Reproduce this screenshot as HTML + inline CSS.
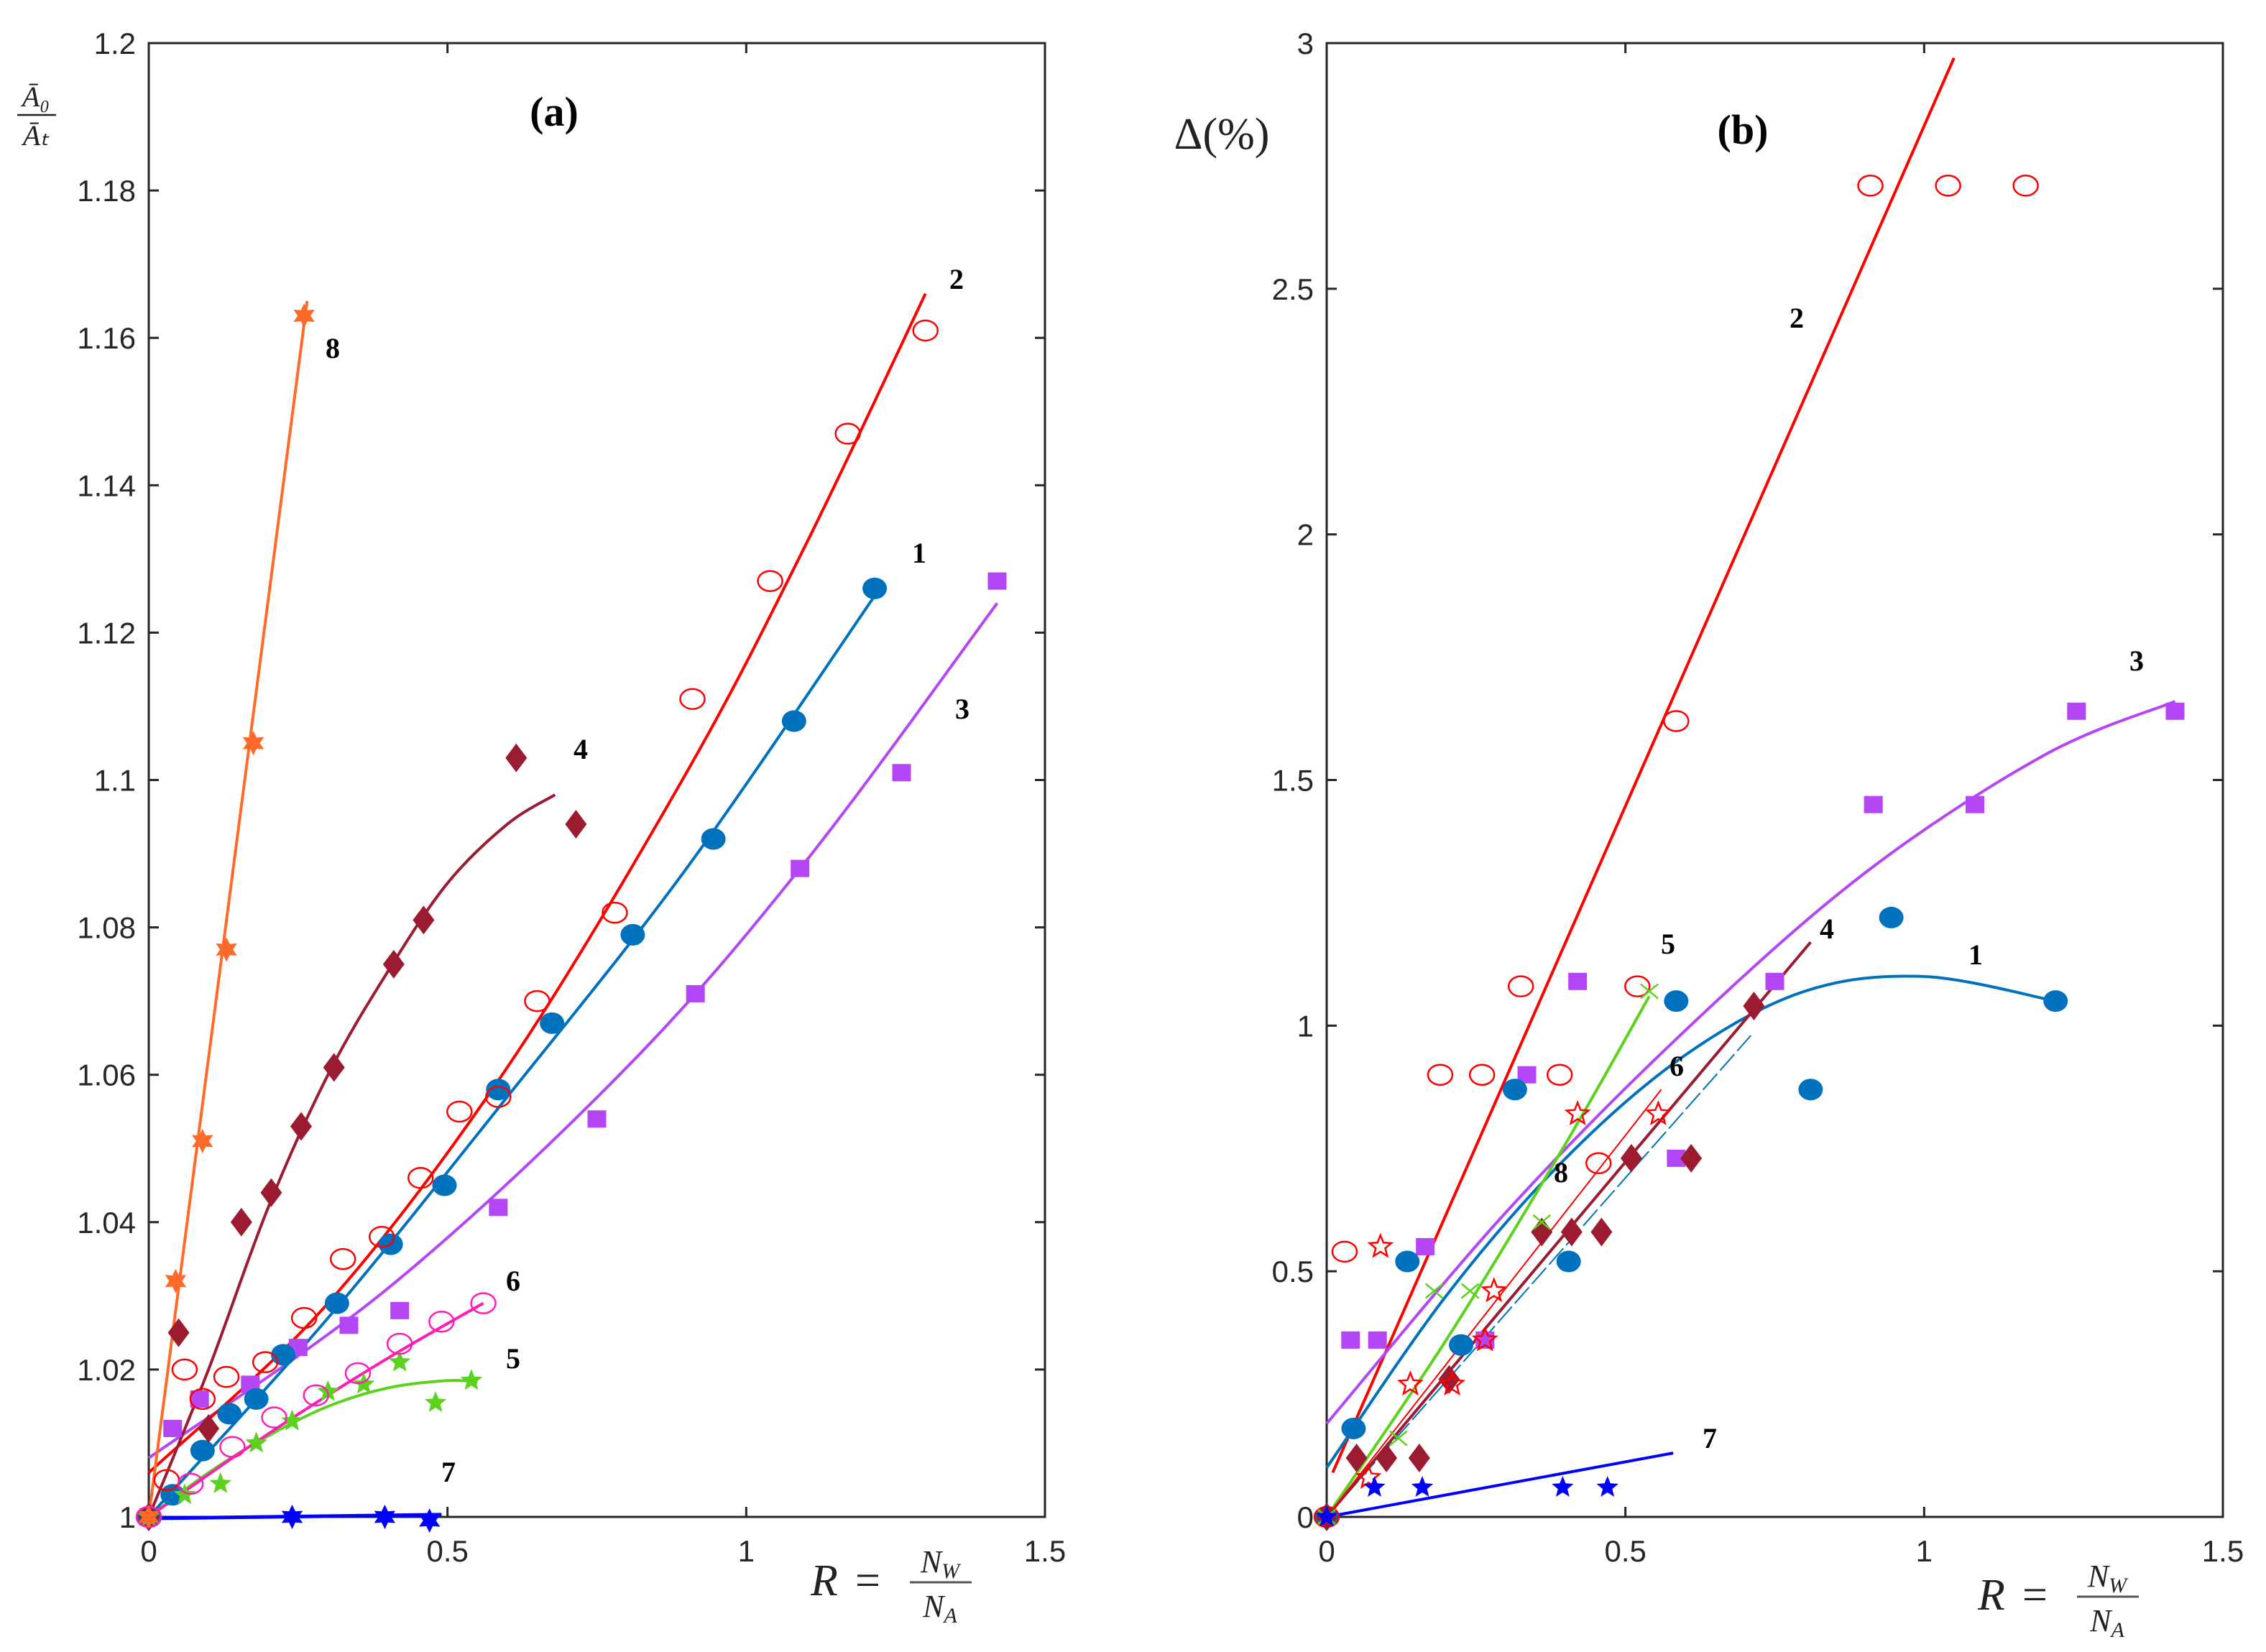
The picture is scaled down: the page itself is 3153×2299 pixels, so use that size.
<!DOCTYPE html>
<html><head><meta charset="utf-8"><style>
html,body{margin:0;padding:0;background:#fff}
svg{display:block}
text{font-family:"Liberation Sans",Arial,sans-serif}
.ser{font-family:"Liberation Serif",serif}
</style></head><body>
<svg id="svg" width="3153" height="2299" viewBox="0 0 3153 2299" xmlns="http://www.w3.org/2000/svg"></svg>
<script>
// ---------- Panel (a) data ----------
const a1x=[0,0.04,0.09,0.135,0.18,0.225,0.315,0.405,0.495,0.585,0.675,0.81,0.945,1.08,1.215];
const a1y=[1,1.003,1.009,1.014,1.016,1.022,1.029,1.037,1.045,1.058,1.067,1.079,1.092,1.108,1.126];
const a1fx=[0,0.3,0.6,0.9,1.215];
const a1fy=[1.0,1.027,1.057,1.088,1.125];
const a2x=[0,0.03,0.06,0.09,0.13,0.195,0.26,0.325,0.39,0.455,0.52,0.585,0.65,0.78,0.91,1.04,1.17,1.3];
const a2y=[1,1.005,1.020,1.016,1.019,1.021,1.027,1.035,1.038,1.046,1.055,1.057,1.070,1.082,1.111,1.127,1.147,1.161];
const a2fx=[0,0.3,0.6,0.9,1.1,1.3];
const a2fy=[1.006,1.029,1.061,1.101,1.132,1.166];
const a3x=[0,0.04,0.085,0.17,0.25,0.335,0.42,0.585,0.75,0.915,1.09,1.26,1.42];
const a3y=[1,1.012,1.016,1.018,1.023,1.026,1.028,1.042,1.054,1.071,1.088,1.101,1.127];
const a3fx=[0,0.4,0.8,1.1,1.42];
const a3fy=[1.008,1.031,1.061,1.089,1.124];
const a4x=[0,0.05,0.1,0.155,0.205,0.255,0.31,0.41,0.46,0.615,0.715];
const a4y=[1,1.025,1.012,1.040,1.044,1.053,1.061,1.075,1.081,1.103,1.094];
const a4fx=[0,0.1,0.2,0.3,0.4,0.5,0.6,0.68];
const a4fy=[1.0,1.020,1.042,1.060,1.074,1.086,1.094,1.098];
const a5x=[0,0.06,0.12,0.18,0.24,0.3,0.36,0.42,0.48,0.54];
const a5y=[1,1.003,1.0045,1.010,1.013,1.017,1.018,1.021,1.0155,1.0185];
const a5fx=[0,0.1,0.2,0.3,0.4,0.5,0.55];
const a5fy=[1.0,1.006,1.011,1.015,1.0175,1.0185,1.0183];
const a6x=[0,0.07,0.14,0.21,0.28,0.35,0.42,0.49,0.56];
const a6y=[1,1.0045,1.0095,1.0135,1.0165,1.0195,1.0235,1.0265,1.029];
const a6fx=[0,0.14,0.28,0.42,0.56];
const a6fy=[1.0,1.008,1.0155,1.0225,1.029];
const a7x=[0,0.24,0.395,0.47];
const a7y=[1,1.0,1.0,0.9995];
const a7fx=[0,0.49];
const a7fy=[0.9998,1.0003];
const a8x=[0,0.045,0.09,0.13,0.175,0.26];
const a8y=[1,1.032,1.051,1.077,1.105,1.163];
const a8fx=[0,0.265];
const a8fy=[1.0,1.165];
const aYTicks=[1,1.02,1.04,1.06,1.08,1.1,1.12,1.14,1.16,1.18,1.2];
const aYLabels=["1","1.02","1.04","1.06","1.08","1.1","1.12","1.14","1.16","1.18","1.2"];
const xTicks=[0,0.5,1,1.5];
const xLabels=["0","0.5","1","1.5"];
// ---------- Panel (b) data ----------
const b1x=[0,0.045,0.135,0.225,0.315,0.405,0.585,0.81,0.945,1.22];
const b1y=[0,0.18,0.52,0.35,0.87,0.52,1.05,0.87,1.22,1.05];
const b1fx=[0,0.2,0.4,0.6,0.8,1.0,1.22];
const b1fy=[0.1,0.45,0.73,0.94,1.07,1.1,1.05];
const b2x=[0,0.03,0.19,0.26,0.325,0.39,0.455,0.52,0.585,0.91,1.04,1.17];
const b2y=[0,0.54,0.9,0.9,1.08,0.9,0.72,1.08,1.62,2.71,2.71,2.71];
const b2fx=[0.01,1.05];
const b2fy=[0.09,2.97];
const b3x=[0.04,0.085,0.165,0.265,0.335,0.42,0.585,0.75,0.915,1.085,1.255,1.42];
const b3y=[0.36,0.36,0.55,0.36,0.9,1.09,0.73,1.09,1.45,1.45,1.64,1.64];
const b3fx=[0,0.3,0.6,0.9,1.2,1.42];
const b3fy=[0.19,0.62,0.99,1.31,1.55,1.66];
const b4x=[0,0.05,0.1,0.155,0.205,0.36,0.41,0.46,0.51,0.61,0.715];
const b4y=[0,0.12,0.12,0.12,0.28,0.58,0.58,0.58,0.73,0.73,1.04];
const b4fx=[0,0.81];
const b4fy=[0,1.17];
const b5x=[0,0.12,0.18,0.24,0.36,0.54];
const b5y=[0,0.16,0.46,0.46,0.6,1.07];
const b5fx=[0,0.2,0.4,0.54];
const b5fy=[0,0.36,0.76,1.06];
const b6x=[0.07,0.14,0.21,0.265,0.28,0.42,0.555,0.09];
const b6y=[0.08,0.27,0.27,0.36,0.46,0.82,0.82,0.55];
const b6fx=[0,0.56];
const b6fy=[0,0.87];
const b7x=[0,0.08,0.16,0.395,0.47];
const b7y=[0,0.06,0.06,0.06,0.06];
const b7fx=[0,0.58];
const b7fy=[0,0.13];
const b8fx=[0,0.71];
const b8fy=[0,0.98];
const bYTicks=[0,0.5,1,1.5,2,2.5,3];
const bYLabels=["0","0.5","1","1.5","2","2.5","3"];

const NS="http://www.w3.org/2000/svg";
const svg=document.getElementById('svg');
function mk(tag,attrs,parent){const e=document.createElementNS(NS,tag);for(const k in attrs)e.setAttribute(k,attrs[k]);(parent||svg).appendChild(e);return e;}

function panel(L,R,T,B,xmin,xmax,ymin,ymax,name){
  const g=mk('g',{});
  
  
  return {g,sx:v=>L+(v-xmin)/(xmax-xmin)*(R-L),sy:v=>B-(v-ymin)/(ymax-ymin)*(B-T),L,R,T,B};
}
function axes(P,yt,yl,name){
  const fr=mk('rect',{x:P.L,y:P.T,width:P.R-P.L,height:P.B-P.T,fill:'none',stroke:'#262626','stroke-width':3},P.g);
  
  
  yt.forEach((v,i)=>{
    const y=P.sy(v);
    mk('line',{x1:P.L,x2:P.L+14,y1:y,y2:y,stroke:'#262626','stroke-width':3},P.g);
    mk('line',{x1:P.R,x2:P.R-14,y1:y,y2:y,stroke:'#262626','stroke-width':3},P.g);
    const t=mk('text',{x:P.L-18,y:y+15,'text-anchor':'end','font-size':42,fill:'#262626'},P.g);
    t.textContent=yl[i];
    
    
  });
  xTicks.forEach((v,i)=>{
    const x=P.sx(v);
    mk('line',{x1:x,x2:x,y1:P.B,y2:P.B-14,stroke:'#262626','stroke-width':3},P.g);
    mk('line',{x1:x,x2:x,y1:P.T,y2:P.T+14,stroke:'#262626','stroke-width':3},P.g);
    const t=mk('text',{x:x,y:P.B+62,'text-anchor':'middle','font-size':42,fill:'#262626'},P.g);
    t.textContent=xLabels[i];
    
    
  });
}
function smooth(P,xs,ys,color,w,name,dash){
  const pts=xs.map((x,i)=>[P.sx(x),P.sy(ys[i])]);
  let d='M'+pts[0][0]+','+pts[0][1];
  for(let i=0;i<pts.length-1;i++){
    const p0=pts[Math.max(0,i-1)],p1=pts[i],p2=pts[i+1],p3=pts[Math.min(pts.length-1,i+2)];
    const c1=[p1[0]+(p2[0]-p0[0])/6,p1[1]+(p2[1]-p0[1])/6];
    const c2=[p2[0]-(p3[0]-p1[0])/6,p2[1]-(p3[1]-p1[1])/6];
    d+=' C'+c1[0]+','+c1[1]+' '+c2[0]+','+c2[1]+' '+p2[0]+','+p2[1];
  }
  const e=mk('path',{d,fill:'none',stroke:color,'stroke-width':w},P.g);
  if(dash)e.setAttribute('stroke-dasharray',dash);
  
  
}
function starPts(cx,cy,n,ro,ri){let s=[];for(let i=0;i<2*n;i++){const r=i%2?ri:ro;const a=-Math.PI/2+i*Math.PI/n;s.push((cx+r*Math.cos(a)).toFixed(1)+','+(cy+r*Math.sin(a)).toFixed(1));}return s.join(' ');}
function marker(P,x,y,type,color,name){
  const cx=P.sx(x),cy=P.sy(y);let e;
  if(type==='circle')e=mk('ellipse',{cx,cy,rx:17,ry:15,fill:color},P.g);
  else if(type==='ocircle')e=mk('ellipse',{cx,cy,rx:17,ry:14,fill:'none',stroke:color,'stroke-width':2.5},P.g);
  else if(type==='square')e=mk('rect',{x:cx-13,y:cy-12,width:26,height:24,fill:color},P.g);
  else if(type==='diamond')e=mk('polygon',{points:`${cx},${cy-20} ${cx+15},${cy} ${cx},${cy+20} ${cx-15},${cy}`,fill:color},P.g);
  else if(type==='star')e=mk('polygon',{points:starPts(cx,cy,5,16,7),fill:color},P.g);
  else if(type==='ostar')e=mk('polygon',{points:starPts(cx,cy,5,16,7),fill:'none',stroke:color,'stroke-width':2.5},P.g);
  else if(type==='hex')e=mk('polygon',{points:starPts(cx,cy,6,17,9),fill:color},P.g);
  else if(type==='x'){e=mk('path',{d:`M${cx-12},${cy-10}L${cx+12},${cy+10}M${cx-12},${cy+10}L${cx+12},${cy-10}`,stroke:color,'stroke-width':2.5},P.g);}
  
  
}
function series(P,xs,ys,type,color,name){xs.forEach((x,i)=>marker(P,x,ys[i],type,color,name+'-point'));}
function label(P,txt,x,y,size,name,cls){
  const t=mk('text',{x,y,'font-size':size,'font-weight':'bold','text-anchor':'middle',fill:'#000',class:cls||'ser'},P.g);
  t.textContent=txt;
  
  
}

// Panel A
const A=panel(207,1454,60,2111,0,1.5,1,1.2,'panel-a');
axes(A,aYTicks,aYLabels,'panel-a');
const C={blue:'#0072BD',red:'#FF0000',purple:'#B446F5',dred:'#9B1B30',green:'#5CD21E',pink:'#FF1DB4',dblue:'#0000FF',orange:'#FF6A2A'};
smooth(A,a3fx,a3fy,C.purple,4,'series-3-fit');
smooth(A,a1fx,a1fy,C.blue,4,'series-1-fit');
smooth(A,a2fx,a2fy,C.red,4,'series-2-fit');
smooth(A,a4fx,a4fy,C.dred,4,'series-4-fit');
smooth(A,a5fx,a5fy,C.green,4,'series-5-fit');
smooth(A,a6fx,a6fy,C.pink,4,'series-6-fit');
smooth(A,a7fx,a7fy,C.dblue,5,'series-7-fit');
smooth(A,a8fx,a8fy,C.orange,4,'series-8-fit');
series(A,a3x,a3y,'square',C.purple,'series-3');
series(A,a1x,a1y,'circle',C.blue,'series-1');
series(A,a2x,a2y,'ocircle',C.red,'series-2');
series(A,a4x,a4y,'diamond',C.dred,'series-4');
series(A,a5x,a5y,'star',C.green,'series-5');
series(A,a6x,a6y,'ocircle',C.pink,'series-6');
series(A,a7x,a7y,'hex',C.dblue,'series-7');
series(A,a8x,a8y,'hex',C.orange,'series-8');
label(A,'(a)',771,175,58,'panel-a-title');
[['8',463,498],['4',808,1056],['2',1331,402],['1',1279,783],['3',1339,1000],['6',714,1796],['5',714,1904],['7',624,2062]].forEach(l=>label(A,l[0],l[1],l[2],40,'series-'+l[0]+'-label'));
// y title a
(function(){
  const g=mk('g',{},A.g);
  
  
  const t1=mk('text',{x:50,y:148,'font-size':40,'font-style':'italic','text-anchor':'middle',class:'ser',fill:'#222'},g);t1.textContent='Ā₀';
  mk('line',{x1:24,x2:78,y1:160,y2:160,stroke:'#222','stroke-width':2.5},g);
  const t2=mk('text',{x:50,y:202,'font-size':40,'font-style':'italic','text-anchor':'middle',class:'ser',fill:'#222'},g);t2.textContent='Āₜ';
})();
function xtitle(P,x,y,name){
  const g=mk('g',{},P.g);
  
  
  const t=mk('text',{x:x,y:y,'font-size':62,'font-style':'italic',class:'ser',fill:'#222'},g);t.textContent='R';
  const e=mk('text',{x:x+62,y:y,'font-size':62,class:'ser',fill:'#222'},g);e.textContent='=';
  const n=mk('text',{x:x+180,y:y-32,'font-size':44,'font-style':'italic','text-anchor':'middle',class:'ser',fill:'#222'},g);
  n.innerHTML='N<tspan font-size="30" dy="8">W</tspan>';
  mk('line',{x1:x+138,x2:x+224,y1:y-18,y2:y-18,stroke:'#555','stroke-width':3},g);
  const d=mk('text',{x:x+180,y:y+30,'font-size':44,'font-style':'italic','text-anchor':'middle',class:'ser',fill:'#222'},g);
  d.innerHTML='N<tspan font-size="30" dy="8">A</tspan>';
}
xtitle(A,1128,2220,'panel-a-x-axis-title');

// Panel B
const Bp=panel(1846,3093,60,2111,0,1.5,0,3,'panel-b');
axes(Bp,bYTicks,bYLabels,'panel-b');
smooth(Bp,b2fx,b2fy,C.red,4,'b-series-2-fit');
smooth(Bp,b3fx,b3fy,C.purple,4,'b-series-3-fit');
smooth(Bp,b1fx,b1fy,C.blue,4,'b-series-1-fit');
smooth(Bp,b8fx,b8fy,C.blue,2,'b-series-8-fit','30,6');
smooth(Bp,b4fx,b4fy,C.dred,4,'b-series-4-fit');
smooth(Bp,b5fx,b5fy,C.green,4,'b-series-5-fit');
smooth(Bp,b6fx,b6fy,C.red,2,'b-series-6-fit');
smooth(Bp,b7fx,b7fy,C.dblue,4,'b-series-7-fit');
series(Bp,b3x,b3y,'square',C.purple,'b-series-3');
series(Bp,b1x,b1y,'circle',C.blue,'b-series-1');
series(Bp,b2x,b2y,'ocircle',C.red,'b-series-2');
series(Bp,b4x,b4y,'diamond',C.dred,'b-series-4');
series(Bp,b5x,b5y,'x',C.green,'b-series-5');
series(Bp,b6x,b6y,'ostar',C.red,'b-series-6');
series(Bp,b7x,b7y,'star',C.dblue,'b-series-7');
label(Bp,'(b)',2425,200,58,'panel-b-title');
[['2',2500,456],['3',2973,933],['5',2321,1327],['4',2542,1306],['1',2749,1342],['6',2333,1497],['8',2172,1645],['7',2379,2015]].forEach(l=>label(Bp,l[0],l[1],l[2],40,'b-series-'+l[0]+'-label'));
(function(){
  const t=mk('text',{x:1700,y:207,'font-size':62,'text-anchor':'middle',class:'ser',fill:'#222'},Bp.g);
  t.textContent='Δ(%)';
  
  
})();
xtitle(Bp,2752,2240,'panel-b-x-axis-title');
</script>
</body></html>
